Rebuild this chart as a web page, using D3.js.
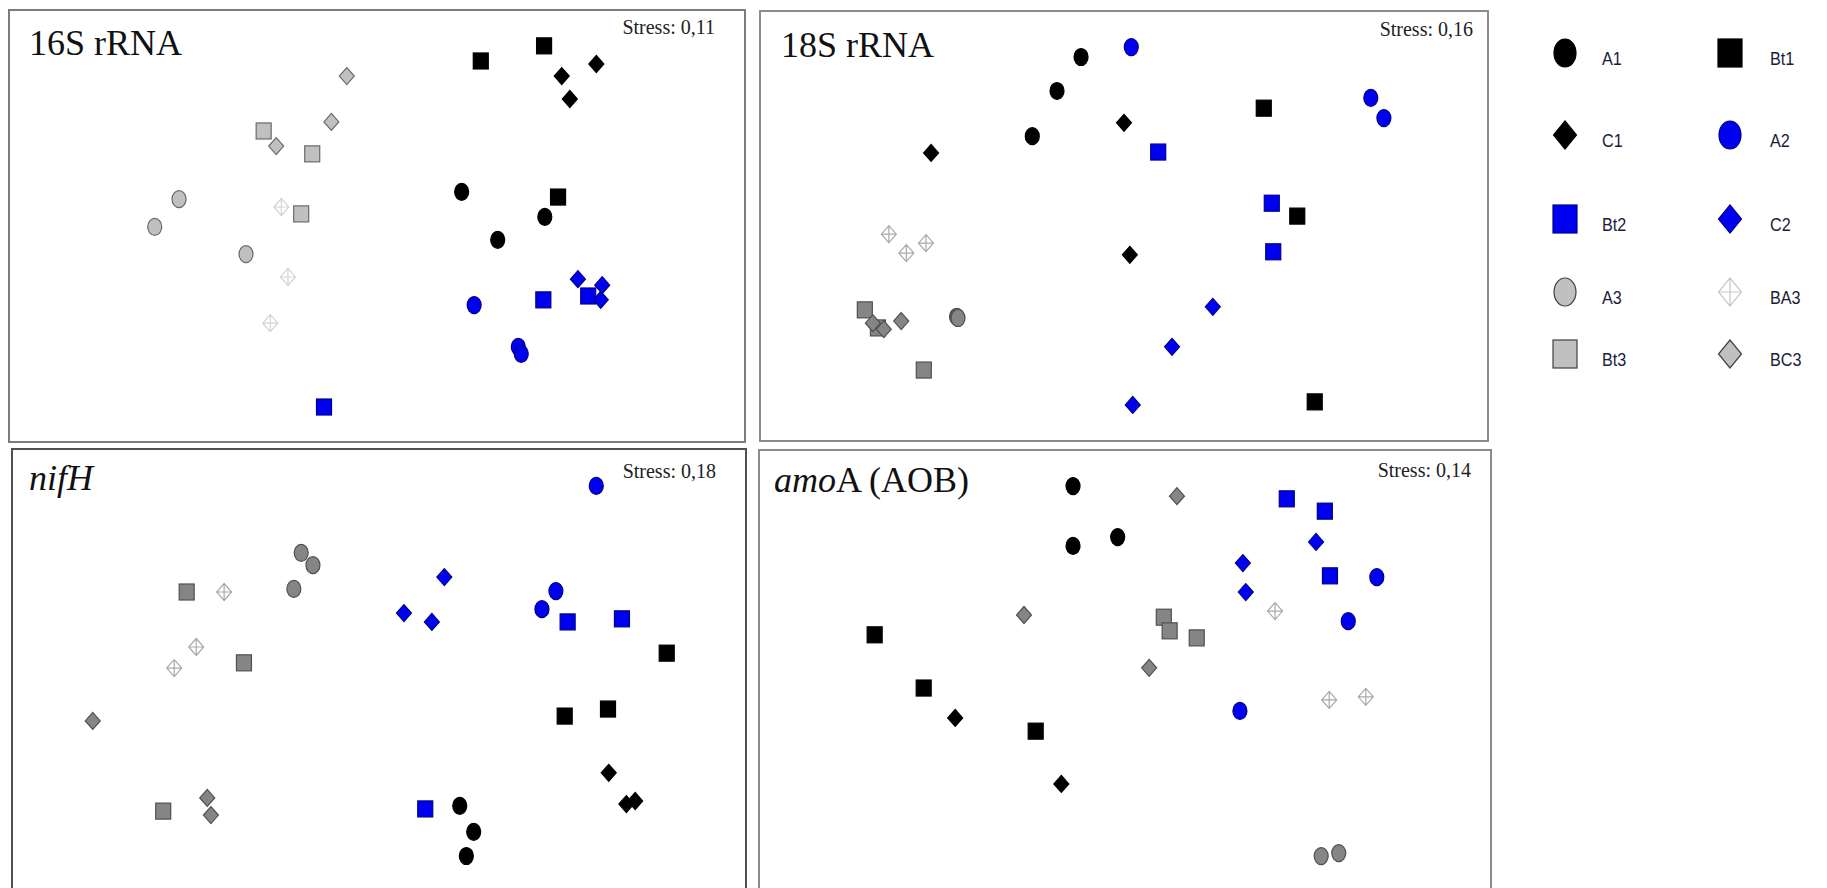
<!DOCTYPE html>
<html>
<head>
<meta charset="utf-8">
<script src="https://cdn.jsdelivr.net/npm/d3@7"></script>
<style>
  html, body { margin: 0; padding: 0; background: #fff; overflow: hidden; }
  svg { display: block; }
</style>
</head>
<body>
<svg id="canvas" width="1827" height="888"></svg>
<script>
// NMDS ordinations, coordinates in % of each panel's axis range (x right, y up)
const groups = ["A1", "Bt1", "C1", "A2", "Bt2", "C2", "A3", "BA3", "Bt3", "BC3"];
const legendOrder = [["A1", "Bt1"], ["C1", "A2"], ["Bt2", "C2"], ["A3", "BA3"], ["Bt3", "BC3"]];
const stressValues = ["0,11", "0,16", "0,18", "0,14"];

const pts16S = {
    A1: [[61.5, 57.9], [72.8, 52.1], [66.4, 46.8]],
    Bt1: [[64.1, 88.2], [72.7, 91.7], [74.6, 56.7]],
    C1: [[75.1, 84.7], [79.8, 87.5], [76.2, 79.4]],
    A2: [[63.2, 31.7], [69.2, 22.0], [69.6, 20.4]],
    Bt2: [[72.6, 32.9], [78.7, 33.8], [42.8, 8.1]],
    C2: [[77.3, 37.7], [80.6, 36.3], [80.4, 32.9]],
    A3: [[23.1, 56.2], [19.8, 49.8], [32.2, 43.5]],
    BA3: [[37.0, 54.4], [37.9, 38.2], [35.5, 27.5]],
    Bt3: [[34.6, 72.0], [41.2, 66.7], [39.7, 52.8]],
    BC3: [[45.9, 84.7], [43.8, 74.1], [36.3, 68.5]]
};

const pts18S = {
    A1: [[44.1, 89.3], [40.8, 81.4], [37.4, 70.9]],
    Bt1: [[69.2, 77.4], [73.8, 52.3], [76.2, 9.1]],
    C1: [[50.0, 74.0], [23.5, 67.0], [50.8, 43.3]],
    A2: [[51.0, 91.6], [83.9, 79.8], [85.7, 75.1]],
    Bt2: [[54.7, 67.2], [70.3, 55.3], [70.5, 44.0]],
    C2: [[62.2, 31.2], [56.6, 21.9], [51.2, 8.4]],
    A3: [[27.0, 28.9], [27.1, 28.8], [27.2, 28.6]],
    BA3: [[17.7, 48.1], [22.8, 46.0], [20.1, 43.7]],
    Bt3: [[14.4, 30.5], [16.2, 26.3], [22.5, 16.5]],
    BC3: [[15.5, 27.4], [17.0, 26.0], [19.4, 27.9]]
};

const ptsNifH = {
    A1: [[61.0, 18.9], [62.9, 13.0], [61.9, 7.5]],
    Bt1: [[89.2, 53.6], [75.3, 39.3], [81.2, 40.9]],
    C1: [[81.3, 26.4], [83.7, 19.3], [84.9, 20.0]],
    A2: [[79.6, 91.6], [74.1, 67.7], [72.2, 63.6]],
    Bt2: [[75.7, 60.7], [83.1, 61.4], [56.3, 18.2]],
    C2: [[58.9, 70.9], [53.4, 62.7], [57.2, 60.7]],
    A3: [[39.4, 76.4], [41.0, 73.6], [38.4, 68.2]],
    BA3: [[28.9, 67.5], [25.1, 55.0], [22.1, 50.2]],
    Bt3: [[23.8, 67.5], [31.6, 51.4], [20.6, 17.7]],
    BC3: [[11.0, 38.2], [26.6, 20.7], [27.1, 16.8]]
};

const ptsAmoA = {
    A1: [[42.9, 91.8], [49.0, 80.2], [42.9, 78.2]],
    Bt1: [[15.8, 58.0], [22.5, 45.9], [37.8, 36.1]],
    C1: [[26.8, 39.1], [41.3, 24.1]],
    A2: [[84.4, 71.1], [80.5, 61.1], [65.7, 40.7]],
    Bt2: [[72.1, 88.9], [77.3, 86.1], [78.0, 71.4]],
    C2: [[76.1, 79.1], [66.1, 74.3], [66.5, 67.7]],
    A3: [[76.8, 7.7], [79.2, 8.4]],
    BA3: [[70.5, 63.4], [77.9, 43.2], [82.9, 43.9]],
    Bt3: [[55.3, 62.0], [56.1, 58.9], [59.8, 57.3]],
    BC3: [[57.1, 89.5], [36.2, 62.5], [53.3, 50.5]]
};

const svg = d3.select("#canvas");

const panels = [
    { pts: pts16S, stress: stressValues[0], left: 9, top: 10, w: 736, h: 432, boxH: 432,
      border: "#7c7c7c", title: [{ t: "16S rRNA" }], tx: 20, ty: 45, sx: 706, sy: 24, gray: "light" },
    { pts: pts18S, stress: stressValues[1], left: 760, top: 11, w: 728, h: 430, boxH: 430,
      border: "#8c8c8c", title: [{ t: "18S rRNA" }], tx: 21, ty: 46, sx: 713, sy: 25, gray: "dark" },
    { pts: ptsNifH, stress: stressValues[2], left: 12, top: 449, w: 734, h: 440, boxH: 460,
      border: "#505050", title: [{ t: "nifH", i: true }], tx: 17, ty: 41, sx: 704, sy: 29, gray: "dark" },
    { pts: ptsAmoA, stress: stressValues[3], left: 759, top: 450, w: 732, h: 440, boxH: 460,
      border: "#8c8c8c", title: [{ t: "amo", i: true }, { t: "A (AOB)" }], tx: 15, ty: 42, sx: 712, sy: 27, gray: "dark" }
];

function styleFor(g, gray) {
    const blk = { fill: "#000", stroke: "#000" };
    const blu = { fill: "#0000f0", stroke: "#00008c" };
    const gr = gray === "light" ? { fill: "#c0c0c0", stroke: "#6a6a6a" }
        : gray === "dark" ? { fill: "#858585", stroke: "#505050" }
        : { fill: "#c0c0c0", stroke: "#404040" };
    const ba = gray === "light" ? "#d4d4d4" : gray === "dark" ? "#aaaaaa" : "#c8c8c8";
    if (g === "A1" || g === "Bt1" || g === "C1") return blk;
    if (g === "A2" || g === "Bt2" || g === "C2") return blu;
    if (g === "BA3") return { fill: "#fff", stroke: ba };
    return gr;
}

function shapeOf(g) {
    if (g[0] === "A") return "circle";
    if (g.startsWith("Bt")) return "square";
    if (g === "BA3") return "cross";
    return "diamond";
}

// draw a marker centred at (cx, cy); rw/rh are half width/height
function marker(sel, g, cx, cy, rw, rh, gray) {
    const st = styleFor(g, gray);
    const sh = shapeOf(g);
    if (sh === "circle") {
        sel.append("ellipse").attr("cx", cx).attr("cy", cy).attr("rx", rw).attr("ry", rh)
            .attr("fill", st.fill).attr("stroke", st.stroke).attr("stroke-width", 1.2);
    } else if (sh === "square") {
        sel.append("rect").attr("x", cx - rw).attr("y", cy - rh).attr("width", rw * 2).attr("height", rh * 2)
            .attr("fill", st.fill).attr("stroke", st.stroke).attr("stroke-width", 1.2);
    } else {
        const p = d3.path();
        p.moveTo(cx, cy - rh); p.lineTo(cx + rw, cy); p.lineTo(cx, cy + rh); p.lineTo(cx - rw, cy); p.closePath();
        if (sh === "cross") {
            p.moveTo(cx, cy - rh); p.lineTo(cx, cy + rh);
            p.moveTo(cx - rw, cy); p.lineTo(cx + rw, cy);
        }
        sel.append("path").attr("d", p.toString())
            .attr("fill", sh === "cross" ? "none" : st.fill)
            .attr("stroke", st.stroke).attr("stroke-width", 1.2);
    }
}

panels.forEach(p => {
    const g = svg.append("g");
    const x = d3.scaleLinear().domain([0, 100]).range([p.left, p.left + p.w]);
    const y = d3.scaleLinear().domain([0, 100]).range([p.top + p.h, p.top]);

    g.append("rect")
        .attr("x", p.left).attr("y", p.top)
        .attr("width", p.w).attr("height", p.boxH)
        .attr("fill", "#fff")
        .attr("stroke", p.border)
        .attr("stroke-width", 2);

    const title = g.append("text")
        .attr("x", p.left + p.tx).attr("y", p.top + p.ty)
        .attr("font-family", "'Liberation Serif', 'Times New Roman', serif")
        .attr("font-size", 36)
        .attr("fill", "#111");
    p.title.forEach(s => {
        title.append("tspan").text(s.t).attr("font-style", s.i ? "italic" : "normal");
    });

    g.append("text")
        .attr("x", p.left + p.sx).attr("y", p.top + p.sy)
        .attr("text-anchor", "end")
        .attr("font-family", "'Liberation Serif', 'Times New Roman', serif")
        .attr("font-size", 20)
        .attr("fill", "#222")
        .text("Stress: " + p.stress);

    const order = ["BA3", "Bt3", "BC3", "A3", "A1", "Bt1", "C1", "A2", "Bt2", "C2"];
    order.forEach(grp => {
        (p.pts[grp] || []).forEach(d => {
            const rw = shapeOf(grp) === "circle" ? 7 : 7.5;
            const rh = shapeOf(grp) === "square" ? 8 : 8.5;
            marker(g, grp, x(d[0]), y(d[1]), rw, rh, p.gray);
        });
    });
});

// legend
const legX = [1565, 1730];
const legLabelX = [1602, 1770];
const legRowY = [53, 135, 219, 292, 354];
const legend = svg.append("g");
legendOrder.forEach((row, i) => {
    row.forEach((grp, j) => {
        const cy = legRowY[i];
        const sh = shapeOf(grp);
        const rw = sh === "circle" ? 11 : sh === "square" ? 12 : 11.5;
        const rh = 14;
        marker(legend, grp, legX[j], cy, rw, rh, "legend");
        legend.append("text")
            .attr("x", legLabelX[j]).attr("y", cy + 12)
            .attr("font-family", "'Liberation Sans', Arial, sans-serif")
            .attr("font-size", 18)
            .attr("fill", "#1c1c3a")
            .attr("transform", `translate(${legLabelX[j]},0) scale(0.9,1) translate(${-legLabelX[j]},0)`)
            .text(grp);
    });
});
</script>
</body>
</html>
